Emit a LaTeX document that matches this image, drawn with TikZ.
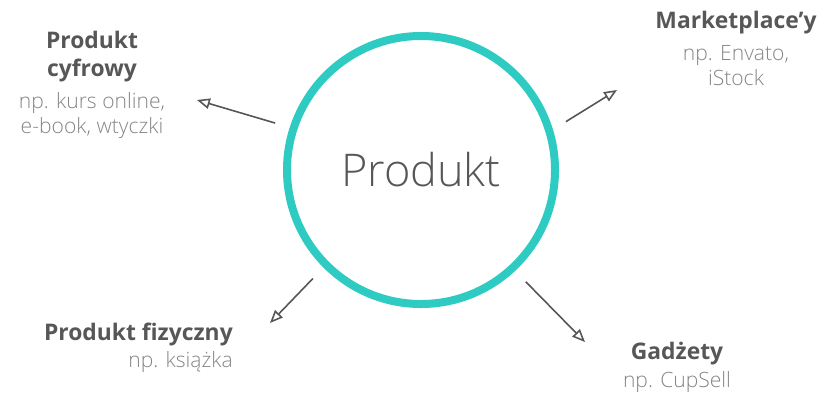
\documentclass[tikz,border=0pt]{standalone}
\usepackage{fontspec}
\setmainfont{Open Sans}
\newfontfamily\lightfont{Open Sans Light}
\usetikzlibrary{arrows.meta, positioning}
\definecolor{ringteal}{HTML}{2DCBC1}
\definecolor{headgray}{HTML}{575757}
\definecolor{subgray}{HTML}{858585}
\definecolor{arrowgray}{HTML}{555555}

\begin{document}
\begin{tikzpicture}[x=0.03cm, y=-0.03cm,
	title/.style={font=\fontsize{19.5}{24}\selectfont\bfseries, text=headgray, inner sep=0pt, align=center},
	note/.style={font=\lightfont\fontsize{18}{21.5}\selectfont, text=subgray, inner sep=0pt, align=center},
	arr/.style={-{Triangle[open, length=11pt, width=9pt]}, arrowgray, line width=1.35pt, shorten <=13pt}]
	\useasboundingbox (0,0) rectangle (821,392);
	% central ring
	\node[circle, draw=ringteal, line width=0.24cm, minimum size=8.04cm, font=\lightfont\fontsize{38.5}{40}\selectfont, text=headgray] (prod) at (421,170) {Produkt};
	% labels around it
	\node[title] (cyfT) at (92,57) {Produkt\\cyfrowy};
	\node[note, below=8pt of cyfT] (cyfN) {np. kurs online,\\e-book, wtyczki};
	\node[title] (mktT) at (736,23) {Marketplace’y};
	\node[note, below=9pt of mktT] (mktN) {np. Envato,\\iStock};
	\node[title, anchor=east] (fizT) at (233,334) {Produkt fizyczny};
	\node[note, below=5pt of fizT.south east, anchor=north east] (fizN) {np. książka};
	\node[title] (gadT) at (677,354) {Gadżety};
	\node[note, below=5pt of gadT] (gadN) {np. CupSell};
	% arrow tips
	\coordinate (cyfA) at (197,100);
	\coordinate (mktA) at (617,90);
	\coordinate (fizA) at (270,323);
	\coordinate (gadA) at (585,342);
	\draw[arr] (prod.162) -- (cyfA);
	\draw[arr] (prod.17) -- (mktA);
	\draw[arr] (prod.225) -- (fizA);
	\draw[arr] (prod.-47) -- (gadA);
\end{tikzpicture}
\end{document}
